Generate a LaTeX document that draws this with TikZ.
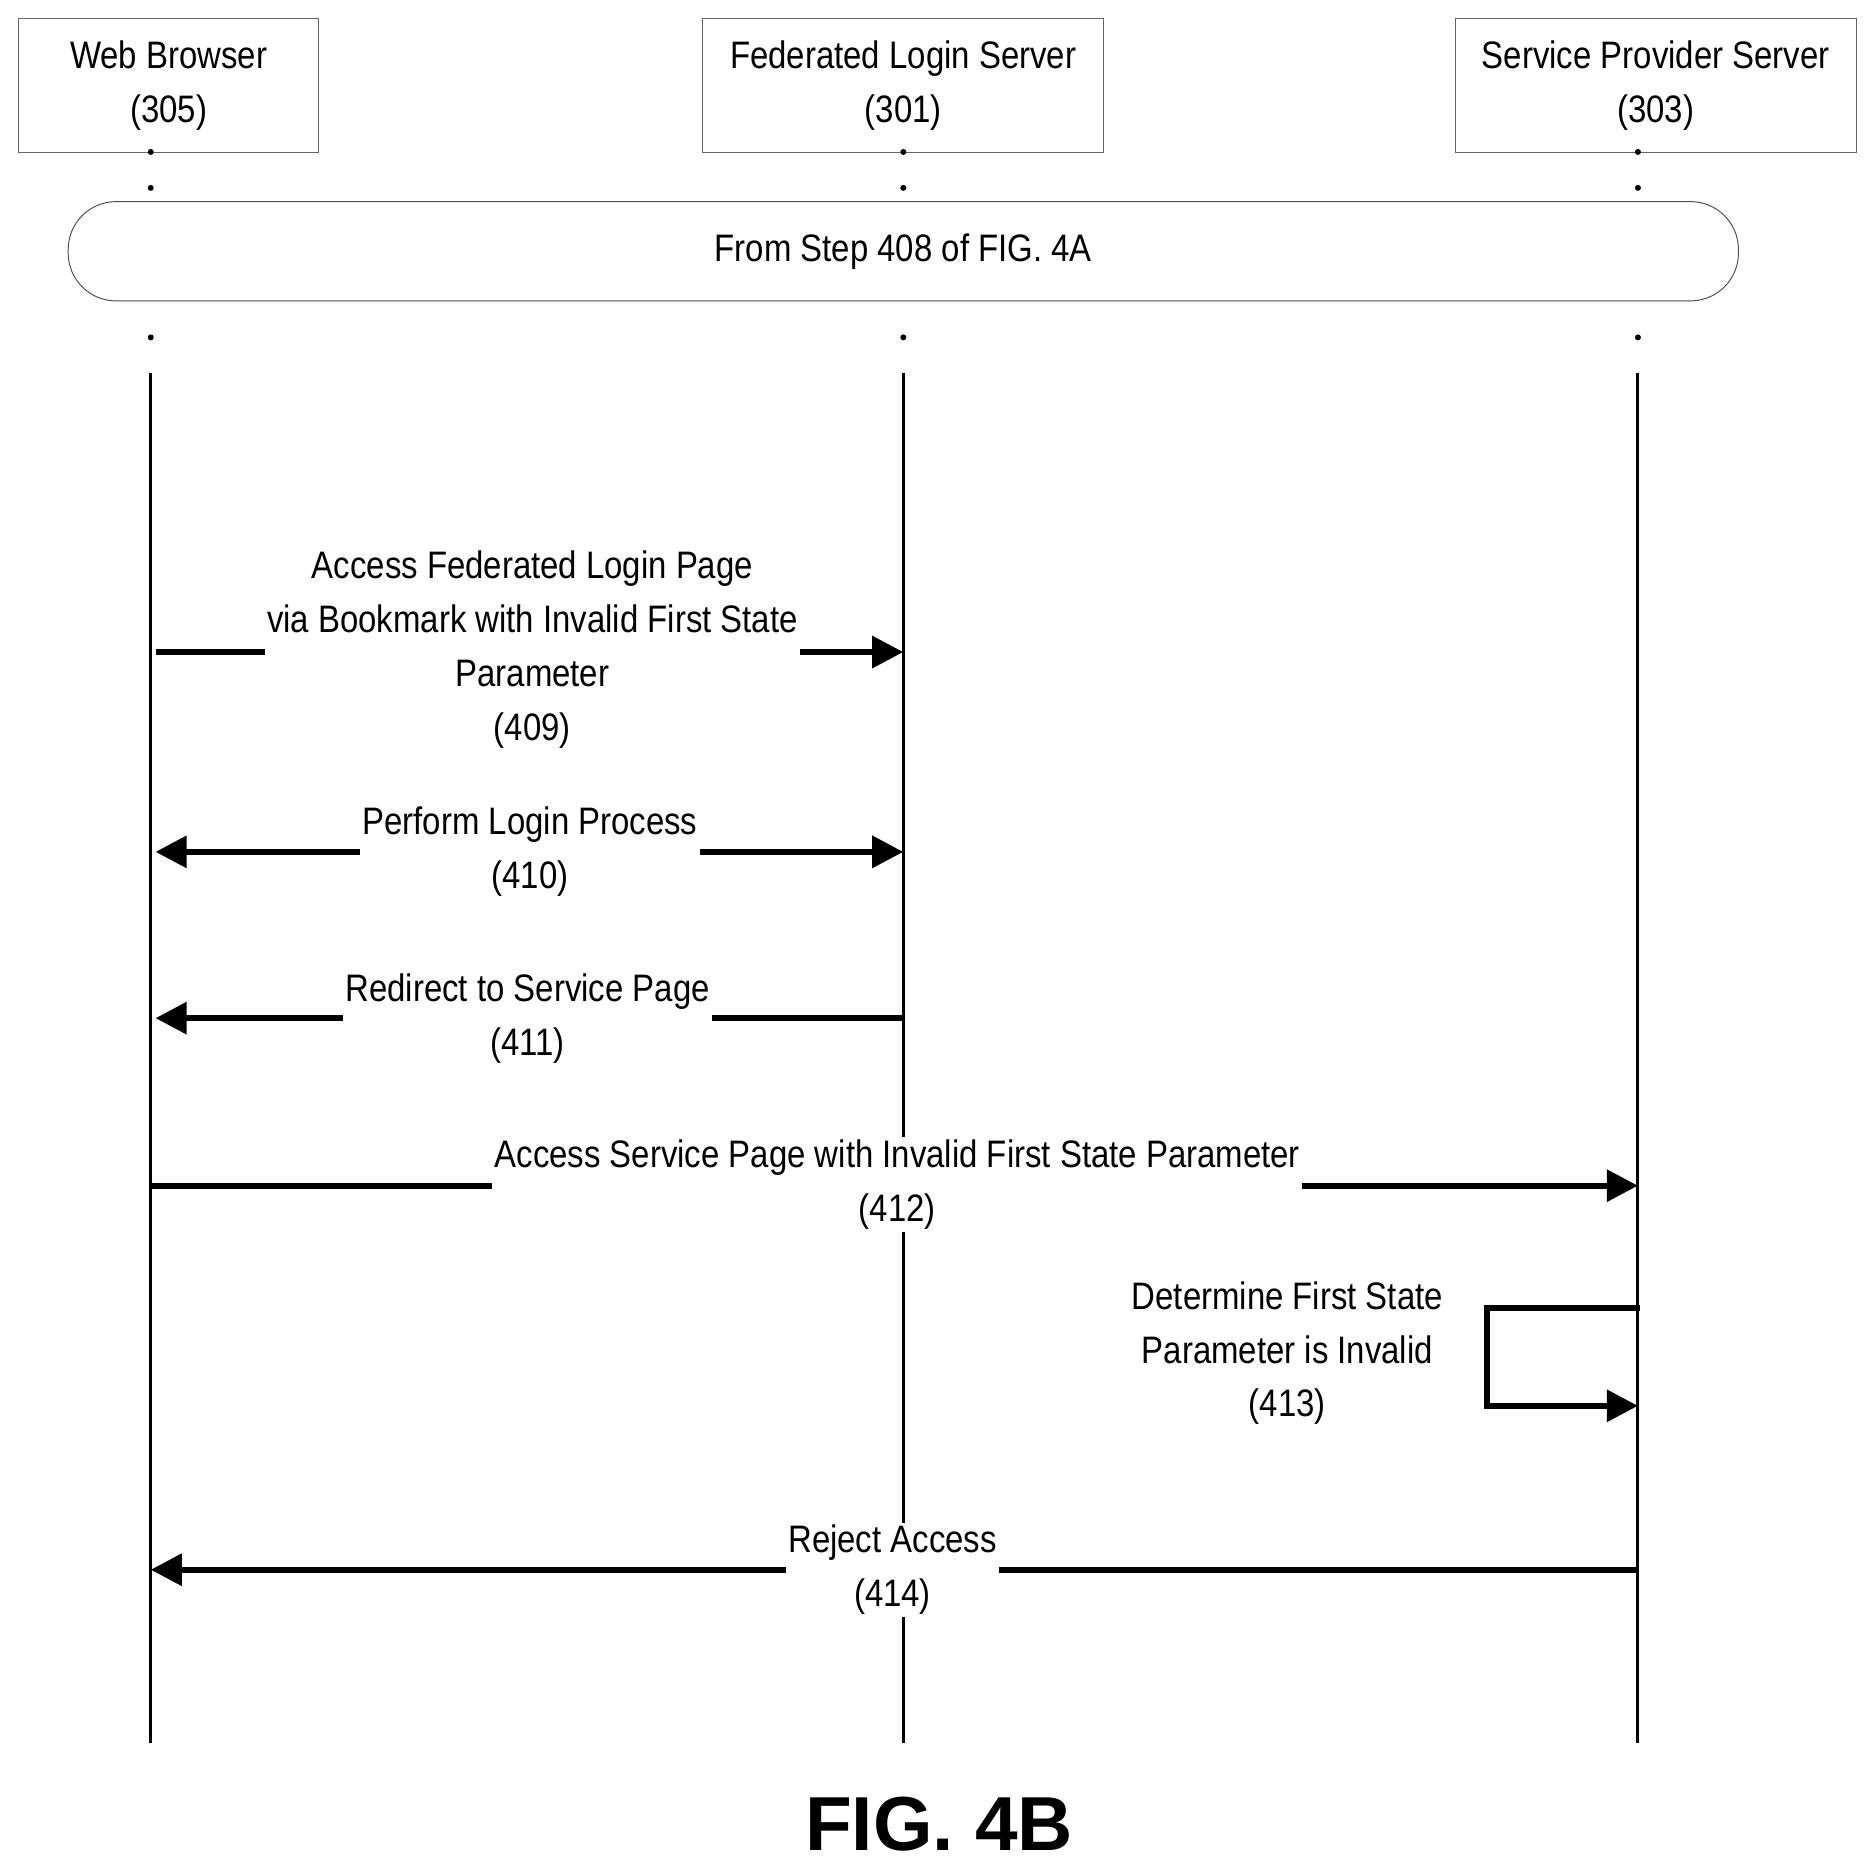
\documentclass[tikz,border=0pt]{standalone}
\usepackage{fontspec}
\setmainfont{Liberation Sans}[FakeStretch=0.86]
\newfontfamily\figfont{Liberation Sans}
\usetikzlibrary{arrows.meta}
\begin{document}
\begin{tikzpicture}[x=1pt,y=-1pt,
  txt/.style={font=\fontsize{32}{45}\selectfont,align=center,fill=white,inner sep=2pt},
  head/.style={draw=black!60,line width=0.8pt,minimum height=112pt,anchor=north west,font=\fontsize{32}{45}\selectfont,align=center,inner sep=0pt},
  life/.style={line width=2.5pt},
  dot/.style={circle,fill=black,inner sep=0pt,minimum size=5pt},
  msg/.style={line width=5pt,-{Triangle[length=26pt,width=26pt]}},
  msgb/.style={line width=5pt,{Triangle[length=26pt,width=26pt]}-{Triangle[length=26pt,width=26pt]}}]
\useasboundingbox (0,0) rectangle (1568,1568);
\node[head,minimum width=251pt] (wb) at (15,15) {Web Browser\\(305)};
\node[head,minimum width=335pt] (fl) at (587,15) {Federated Login Server\\(301)};
\node[head,minimum width=335pt] (sp) at (1216,15) {Service Provider Server\\(303)};
\foreach \n/\x in {a/126,b/755,c/1369}{
  \foreach \y in {127,157,282}{\node[dot] at (\x,\y) {};}
  \coordinate (\n1) at (\x,312);
  \coordinate (\n2) at (\x,1457);
  \draw[life] (\n1) -- (\n2);
}
\node[draw=black!70,line width=0.8pt,rounded corners=40pt,minimum width=1396pt,minimum height=83pt,fill=white,font=\fontsize{32}{45}\selectfont] (from) at (755,210) {From Step 408 of FIG.~4A};
% 409
\coordinate (s1) at (130,545); \coordinate (e1) at (755,545);
\draw[msg] (s1) -- (e1);
\node[txt] (t409) at (445,543) {Access Federated Login Page\\via Bookmark with Invalid First State\\Parameter\\(409)};
% 410
\coordinate (s2) at (130,712); \coordinate (e2) at (755,712);
\draw[msgb] (s2) -- (e2);
\node[txt] (t410) at (443,712) {Perform Login Process\\(410)};
% 411
\coordinate (s3) at (755,851); \coordinate (e3) at (130,851);
\draw[msg] (s3) -- (e3);
\node[txt] (t411) at (441,851) {Redirect to Service Page\\(411)};
% 412
\coordinate (s4) at (126,991); \coordinate (e4) at (1369,991);
\draw[msg] (s4) -- (e4);
\node[txt] (t412) at (750,990) {Access Service Page with Invalid First State Parameter\\(412)};
% 413
\coordinate (s5) at (1371,1093); \coordinate (e5) at (1369,1175);
\draw[msg] (s5) -- (1243,1093) -- (1243,1175) -- (e5);
\node[txt] (t413) at (1076,1131) {Determine First State\\Parameter is Invalid\\(413)};
% 414
\coordinate (s6) at (1369,1312); \coordinate (e6) at (126,1312);
\draw[msg] (s6) -- (e6);
\node[txt] (t414) at (746,1312) {Reject Access\\(414)};
\node[font=\figfont\bfseries\fontsize{64}{70}\selectfont] (fig) at (785,1525) {FIG. 4B};
\end{tikzpicture}
\end{document}
